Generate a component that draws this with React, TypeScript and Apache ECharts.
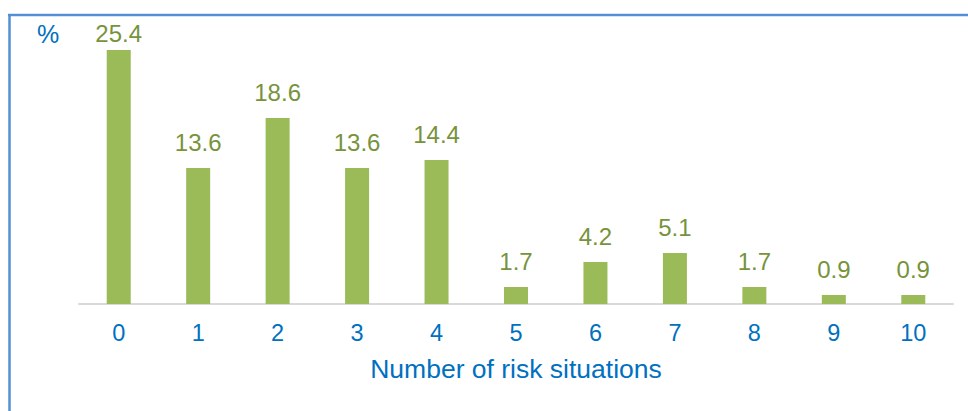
import React, { useEffect, useRef } from "react";
import * as echarts from "echarts";

const categories = ["0", "1", "2", "3", "4", "5", "6", "7", "8", "9", "10"];
const values = [25.4, 13.6, 18.6, 13.6, 14.4, 1.7, 4.2, 5.1, 1.7, 0.9, 0.9];
const xAxisName = "Number of risk situations";
const unitLabel = "%";

export default function App() {
  const ref = useRef<HTMLDivElement>(null);
  useEffect(() => {
    if (!ref.current) return;
    const chart = echarts.init(ref.current, null, { renderer: "svg" });
    const font = "'Liberation Sans', Arial, Helvetica, sans-serif";
    const maxVal = Math.max(...values);
    chart.setOption({
      animation: false,
      backgroundColor: "#ffffff",
      grid: { left: 79, right: 15, top: 24, bottom: 107, containLabel: false },
      xAxis: {
        type: "category",
        data: categories,
        axisLine: { lineStyle: { color: "#d9d9d9", width: 2 } },
        axisTick: { show: false },
        axisLabel: { color: "#0070c0", fontSize: 23.5, fontFamily: font, margin: 17 },
        name: xAxisName,
        nameLocation: "middle",
        nameGap: 51,
        nameTextStyle: { color: "#0070c0", fontSize: 26.5, fontFamily: font },
      },
      yAxis: {
        type: "value",
        min: 0,
        max: 28,
        show: false,
        splitLine: { show: false },
      },
      series: [
        {
          type: "bar",
          data: values.map((v) => ({
            value: v,
            label: { distance: v === maxVal ? 5 : 14 },
          })),
          barWidth: 24,
          itemStyle: { color: "#9bbb59" },
          label: {
            show: true,
            position: "top",
            distance: 14,
            color: "#77933c",
            fontSize: 24,
            fontFamily: font,
          },
        },
      ],
      graphic: [
        {
          type: "line",
          shape: { x1: 8, y1: 15, x2: 968, y2: 15 },
          style: { stroke: "#558ed5", lineWidth: 2.5 },
        },
        {
          type: "line",
          shape: { x1: 9.5, y1: 14, x2: 9.5, y2: 411 },
          style: { stroke: "#558ed5", lineWidth: 2.5 },
        },
        {
          type: "text",
          x: 48,
          y: 34,
          style: {
            text: unitLabel,
            fill: "#0070c0",
            fontSize: 25,
            fontFamily: font,
            textAlign: "center",
            textVerticalAlign: "middle",
          },
        },
      ],
    });
    return () => chart.dispose();
  }, []);
  return (
    <div
      ref={ref}
      style={{ position: "fixed", left: 0, top: 0, width: 968, height: 411 }}
    />
  );
}
